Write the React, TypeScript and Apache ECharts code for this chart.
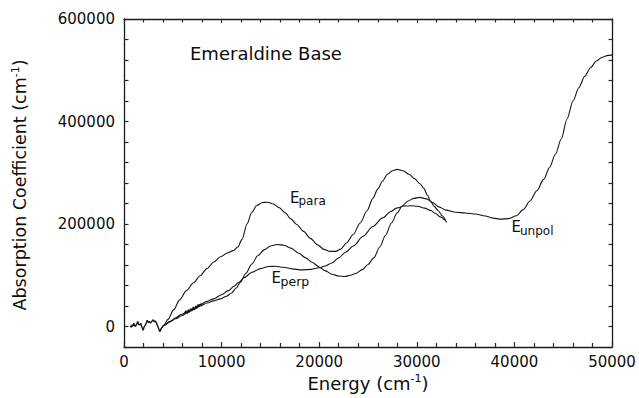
import React, { useEffect, useRef } from "react";
import * as echarts from "echarts";

// Energy (cm-1), absorption coefficient (cm-1) pairs
const startNoise: [number, number][] = [
  [650, 1500], [750, -1500], [850, 3500], [950, 500], [1000, 6500], [1100, 2000],
  [1180, 0], [1300, 5000], [1410, 9800], [1500, 4000], [1620, 3300], [1720, 6000],
  [1850, -2000], [1965, -7400], [2050, -1000], [2200, 3300], [2300, 8000], [2375, 12000],
  [2500, 8000], [2600, 10000], [2710, 6600], [2850, 10000], [2990, 13000], [3100, 9000],
  [3200, 11000], [3330, 6600], [3450, 1000], [3550, -4000], [3665, -9800],
];

const ePara: [number, number][] = [
  [3665, -9800], [4100, 3000], [4500, 14000], [5100, 33000], [5700, 52000], [6400, 70000],
  [7100, 85000], [7800, 99000], [8500, 113000], [9200, 126000], [9900, 136000], [10600, 143500],
  [11200, 148000], [11650, 155000], [12100, 170000], [12600, 200000], [13100, 223000],
  [13600, 236000], [14200, 242000], [14700, 242500], [15300, 239000], [15900, 232000],
  [16500, 222000], [17100, 210000], [17700, 199000], [18400, 185700], [19100, 172000],
  [19800, 159700], [20500, 150500], [21100, 146500], [21700, 146600], [22200, 151000],
  [22800, 163000], [23500, 180000], [24200, 202000], [24900, 226000], [25500, 250000],
  [26000, 268000], [26500, 284000], [27000, 297000], [27500, 304000], [28000, 306500],
  [28600, 304000], [29200, 297000], [29800, 288000], [30300, 279000], [30700, 270000],
  [31100, 256000], [31400, 245000], [31800, 234000], [32200, 226000], [32600, 216000],
  [33050, 203000],
];

const ePerp: [number, number][] = [
  [3665, -9800], [4100, 2500], [4700, 10000], [5300, 17000], [5900, 24000], [6500, 29000],
  [7100, 35000], [7800, 43000], [8500, 49000], [9200, 54000], [10000, 62000], [10700, 70000],
  [11240, 78000], [11750, 86000], [12300, 95000], [13100, 106000], [14000, 113000],
  [14800, 117000], [15500, 117500], [16300, 115500], [17200, 112500], [18200, 110500],
  [19200, 111500], [20000, 114500], [20600, 118000], [21300, 124000], [22000, 134000],
  [22700, 145000], [23500, 157000], [24500, 176000], [25500, 195000], [26500, 212000],
  [27300, 224000], [28000, 231500], [28700, 235000], [29400, 235500], [30100, 234500],
  [30800, 231000], [31400, 226500], [31900, 221000], [32400, 214000], [32900, 207000],
];

const perpWiggle: [number, number][] = [
  [6200, 26000], [6350, 31000], [6450, 25000], [6600, 33000], [6700, 28000], [6850, 35000],
  [6950, 30000], [7100, 38000], [7200, 32000], [7350, 40000], [7450, 35000], [7600, 43000],
  [7700, 38000], [7850, 44000], [8000, 42000],
];

const eUnpol: [number, number][] = [
  [3665, -9800], [4100, 2000], [4700, 9000], [5300, 15000], [5900, 21000], [6500, 27000],
  [7100, 33000], [7800, 40000], [8500, 46000], [9200, 50000], [9900, 54000], [10500, 59000],
  [11000, 65000], [11500, 75000], [11900, 86000], [12500, 104000], [13100, 122000],
  [13700, 138000], [14400, 150000], [15000, 157000], [15700, 160000], [16400, 158500],
  [17100, 153000], [17900, 143000], [18600, 134000], [19300, 125000], [20000, 116000],
  [20600, 109000], [21300, 102000], [22000, 98500], [22600, 97500], [23200, 100000],
  [23800, 104000], [24400, 111000], [25000, 121000], [25600, 134000], [26200, 155000],
  [26800, 178000], [27400, 202000], [28000, 222000], [28500, 235000], [29100, 245000],
  [29700, 250000], [30300, 252000], [31000, 249000], [31600, 242000], [32300, 233000],
  [33000, 227000], [34000, 223000], [35000, 221500], [36000, 219500], [37000, 215500],
  [37800, 211500], [38600, 209500], [39400, 210500], [40200, 216000], [40900, 228000],
  [41600, 245000], [42300, 265000], [43000, 287000], [43600, 310000], [44200, 336000],
  [44800, 366000], [45400, 405000], [46000, 440000], [46600, 466000], [47200, 488000],
  [47800, 505000], [48400, 518000], [49000, 525500], [49600, 529000], [50000, 530000],
];

const xMin = 0;
const xMax = 50000;
const xStep = 10000;
const yMin = -40000;
const yMax = 600000;
const yStep = 40000;
const yLabelStep = 200000;

const FONT = "DejaVu Sans";
const INK = "#151515";

export default function App() {
  const ref = useRef<HTMLDivElement>(null);

  useEffect(() => {
    if (!ref.current) return;
    const chart = echarts.init(ref.current, undefined, { renderer: "svg" });

    const lineCommon = {
      type: "line" as const,
      showSymbol: false,
      symbol: "none",
      silent: true,
      xAxisIndex: 0,
      yAxisIndex: 0,
      lineStyle: { color: INK, width: 1.1 },
    };

    const axisLineStyle = { color: "#1a1a1a", width: 1.3 };
    const tickStyle = { color: "#2a2a2a", width: 1.2 };

    chart.setOption({
      animation: false,
      backgroundColor: "#ffffff",
      grid: { left: 124, right: 27, top: 19, bottom: 51 },
      xAxis: [
        {
          type: "value",
          min: xMin,
          max: xMax,
          interval: xStep,
          position: "bottom",
          axisLine: { show: true, onZero: false, lineStyle: axisLineStyle },
          axisTick: { show: true, inside: true, length: 5, lineStyle: tickStyle },
          minorTick: { show: true, splitNumber: 5, length: 4, lineStyle: tickStyle },
          splitLine: { show: false },
          axisLabel: {
            margin: 7,
            fontFamily: FONT,
            fontSize: 15,
            color: "#0d0d0d",
            formatter: (v: number) => String(v),
          },
        },
        {
          type: "value",
          min: xMin,
          max: xMax,
          interval: xStep,
          position: "top",
          axisLine: { show: true, onZero: false, lineStyle: axisLineStyle },
          axisTick: { show: true, inside: true, length: 4, lineStyle: tickStyle },
          minorTick: { show: true, splitNumber: 5, length: 3.5, lineStyle: tickStyle },
          splitLine: { show: false },
          axisLabel: { show: false },
        },
      ],
      yAxis: [
        {
          type: "value",
          min: yMin,
          max: yMax,
          interval: yStep,
          position: "left",
          axisLine: { show: true, onZero: false, lineStyle: axisLineStyle },
          axisTick: { show: true, inside: true, length: 4.5, lineStyle: tickStyle },
          splitLine: { show: false },
          axisLabel: {
            interval: 0,
            margin: 9,
            fontFamily: FONT,
            fontSize: 15,
            color: "#0d0d0d",
            formatter: (v: number) => (v % yLabelStep === 0 ? String(v) : ""),
          },
        },
        {
          type: "value",
          min: yMin,
          max: yMax,
          interval: yStep,
          position: "right",
          axisLine: { show: true, onZero: false, lineStyle: axisLineStyle },
          axisTick: { show: true, inside: true, length: 3.5, lineStyle: tickStyle },
          splitLine: { show: false },
          axisLabel: { show: false },
        },
      ],
      series: [
        { ...lineCommon, name: "start", data: startNoise, smooth: false, lineStyle: { color: INK, width: 1.4 } },
        { ...lineCommon, name: "E_para", data: ePara, smooth: 0.3, smoothMonotone: "x" },
        { ...lineCommon, name: "E_perp", data: ePerp, smooth: 0.3, smoothMonotone: "x" },
        { ...lineCommon, name: "E_perp noise", data: perpWiggle, smooth: false, lineStyle: { color: INK, width: 1.2 } },
        { ...lineCommon, name: "E_unpol", data: eUnpol, smooth: 0.3, smoothMonotone: "x" },
      ],
      graphic: [
        {
          type: "text",
          left: 190,
          top: 44,
          style: { text: "Emeraldine Base", fontFamily: FONT, fontSize: 18, fill: "#0d0d0d" },
        },
        {
          type: "text",
          x: 368,
          y: 383,
          style: {
            text: "{t|Energy (cm}{s|-1}{t|)}",
            align: "center",
            verticalAlign: "middle",
            rich: {
              t: { fontFamily: FONT, fontSize: 18, fill: "#0d0d0d", lineHeight: 20 },
              s: { fontFamily: FONT, fontSize: 11, fill: "#0d0d0d", lineHeight: 11, verticalAlign: "top" },
            },
          },
        },
        {
          type: "text",
          x: 20,
          y: 185,
          rotation: Math.PI / 2,
          style: {
            text: "{t|Absorption Coefficient (cm}{s|-1}{t|)}",
            align: "center",
            verticalAlign: "middle",
            rich: {
              t: { fontFamily: FONT, fontSize: 17.5, fill: "#0d0d0d", lineHeight: 20 },
              s: { fontFamily: FONT, fontSize: 11, fill: "#0d0d0d", lineHeight: 11, verticalAlign: "top" },
            },
          },
        },
        { type: "text", x: 290, y: 197.5, style: { text: "E", fontFamily: FONT, fontSize: 15, fill: "#0d0d0d", verticalAlign: "middle" } },
        { type: "text", x: 298.5, y: 201, style: { text: "para", fontFamily: FONT, fontSize: 12, fill: "#0d0d0d", verticalAlign: "middle" } },
        { type: "text", x: 271.5, y: 277.5, style: { text: "E", fontFamily: FONT, fontSize: 15, fill: "#0d0d0d", verticalAlign: "middle" } },
        { type: "text", x: 280.5, y: 281, style: { text: "perp", fontFamily: FONT, fontSize: 12.5, fill: "#0d0d0d", verticalAlign: "middle" } },
        { type: "text", x: 511.5, y: 227, style: { text: "E", fontFamily: FONT, fontSize: 15, fill: "#0d0d0d", verticalAlign: "middle" } },
        { type: "text", x: 520, y: 230.5, style: { text: "unpol", fontFamily: FONT, fontSize: 12, fill: "#0d0d0d", verticalAlign: "middle" } },
      ],
    });

    return () => chart.dispose();
  }, []);

  return (
    <div
      ref={ref}
      style={{ position: "fixed", left: 0, top: 0, width: 639, height: 398, background: "#fff" }}
    />
  );
}
